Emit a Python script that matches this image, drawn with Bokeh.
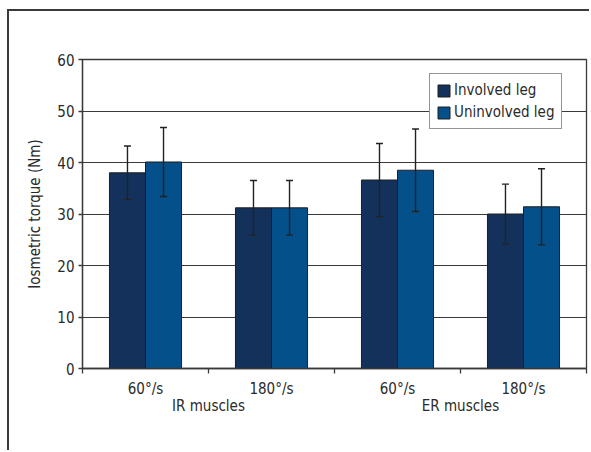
import numpy as np
from bokeh.plotting import figure
from bokeh.models import (ColumnDataSource, Range1d, FixedTicker, LinearAxis,
                          Whisker, TeeHead, Legend, LegendItem)
from bokeh.transform import dodge
from bokeh.embed import file_html
from bokeh.resources import INLINE

# ---- data ----
categories = ["60°/s", "180°/s", "60°/s", "180°/s"]
groups = ["IR muscles", "IR muscles", "ER muscles", "ER muscles"]
involved = [38.0, 31.2, 36.6, 30.0]
involved_sd = [5.2, 5.3, 7.1, 5.8]
uninvolved = [40.1, 31.2, 38.5, 31.4]
uninvolved_sd = [6.7, 5.3, 8.0, 7.4]
y_ticks = [0, 10, 20, 30, 40, 50, 60]
series_names = ["Involved leg", "Uninvolved leg"]

FONT = "DejaVu Sans Condensed"
TXT = "#2a2a2a"
C_INV = "#13315b"
C_UNI = "#03508a"
FS = "15px"

inv = np.array(involved)
inv_sd = np.array(involved_sd)
uni = np.array(uninvolved)
uni_sd = np.array(uninvolved_sd)
xpos = np.arange(len(categories)) + 0.5

src = ColumnDataSource(dict(
    x=xpos, inv=inv, uni=uni,
    inv_lo=inv - inv_sd, inv_hi=inv + inv_sd,
    uni_lo=uni - uni_sd, uni_hi=uni + uni_sd,
))

p = figure(width=582, height=441, output_backend="svg", toolbar_location=None,
           x_range=Range1d(0, len(categories)), y_range=Range1d(0, 60),
           x_axis_location=None, y_axis_location=None,
           min_border_left=73, min_border_right=5, min_border_top=48,
           min_border_bottom=84, background_fill_color="white",
           border_fill_color="white")
p.styles = {"margin-left": "7px", "margin-top": "9px",
            "border-left": "2px solid #3a3a3a", "border-top": "2px solid #3a3a3a"}
p.outline_line_color = "#3a3a3a"
p.outline_line_width = 1.3

bw = 0.286
off = bw / 2
r1 = p.vbar(x=dodge("x", -off), top="inv", width=bw, source=src,
            fill_color=C_INV, line_color="#1e1e1e", line_width=1)
r2 = p.vbar(x=dodge("x", off), top="uni", width=bw, source=src,
            fill_color=C_UNI, line_color="#1e1e1e", line_width=1)

for col, o in (("inv", -off), ("uni", off)):
    w = Whisker(source=src, base=dodge("x", o), upper=col + "_hi", lower=col + "_lo",
                line_color="#222222", line_width=1.4,
                upper_head=TeeHead(size=7, line_color="#222222", line_width=1.4),
                lower_head=TeeHead(size=7, line_color="#222222", line_width=1.4),
                level="annotation")
    p.add_layout(w)

# y axis
yax = LinearAxis(ticker=FixedTicker(ticks=y_ticks, minor_ticks=[]),
                 axis_label="Iosmetric torque (Nm)")
yax.axis_label_text_font = FONT
yax.axis_label_text_font_size = FS
yax.axis_label_text_font_style = "normal"
yax.axis_label_text_color = TXT
yax.axis_label_standoff = 10
yax.major_label_text_font = FONT
yax.major_label_text_font_size = FS
yax.major_label_text_color = TXT
yax.major_label_standoff = 4
yax.major_tick_in = 0
yax.major_tick_out = 4
yax.axis_line_color = "#3a3a3a"
yax.axis_line_width = 1.3
yax.major_tick_line_color = "#3a3a3a"
yax.major_tick_line_width = 1.3
p.add_layout(yax, "left")

# x axis: category labels, boundary ticks
bounds = list(range(len(categories) + 1))
xax = LinearAxis(ticker=FixedTicker(ticks=list(xpos), minor_ticks=bounds))
xax.major_label_overrides = {float(x): c for x, c in zip(xpos, categories)}
xax.major_label_text_font = FONT
xax.major_label_text_font_size = FS
xax.major_label_text_color = TXT
xax.major_label_standoff = 6
xax.major_tick_line_color = None
xax.major_tick_in = 0
xax.major_tick_out = 0
xax.minor_tick_in = 0
xax.minor_tick_out = 5
xax.minor_tick_line_color = "#3a3a3a"
xax.minor_tick_line_width = 1.3
xax.axis_line_color = "#3a3a3a"
xax.axis_line_width = 1.3
p.add_layout(xax, "below")

# group labels
gnames = list(dict.fromkeys(groups))
gpos = [float(np.mean([xpos[i] for i, g in enumerate(groups) if g == gn])) for gn in gnames]
gax = LinearAxis(ticker=FixedTicker(ticks=gpos, minor_ticks=[]))
gax.major_label_overrides = {gp: gn for gp, gn in zip(gpos, gnames)}
gax.major_label_text_font = FONT
gax.major_label_text_font_size = FS
gax.major_label_text_color = TXT
gax.major_label_standoff = -4
gax.axis_line_color = None
gax.major_tick_line_color = None
gax.major_tick_in = 0
gax.major_tick_out = 0
p.add_layout(gax, "below")

p.xgrid.grid_line_color = None
p.ygrid.ticker = FixedTicker(ticks=y_ticks)
p.ygrid.grid_line_color = "#3a3a3a"
p.ygrid.grid_line_width = 1.2

legend = Legend(items=[LegendItem(label=series_names[0], renderers=[r1]),
                       LegendItem(label=series_names[1], renderers=[r2])],
                location=(347, 239))
legend.label_text_font = FONT
legend.label_text_font_size = "15px"
legend.label_text_color = TXT
legend.label_height = 20
legend.label_standoff = 3
legend.glyph_width = 15
legend.glyph_height = 15
legend.spacing = 2
legend.padding = 6
legend.margin = 0
legend.border_line_color = "#2a2a2a"
legend.border_line_width = 1.5
legend.background_fill_color = "white"
legend.background_fill_alpha = 1
p.add_layout(legend, "center")

open("out.html", "w").write(file_html(p, INLINE))
